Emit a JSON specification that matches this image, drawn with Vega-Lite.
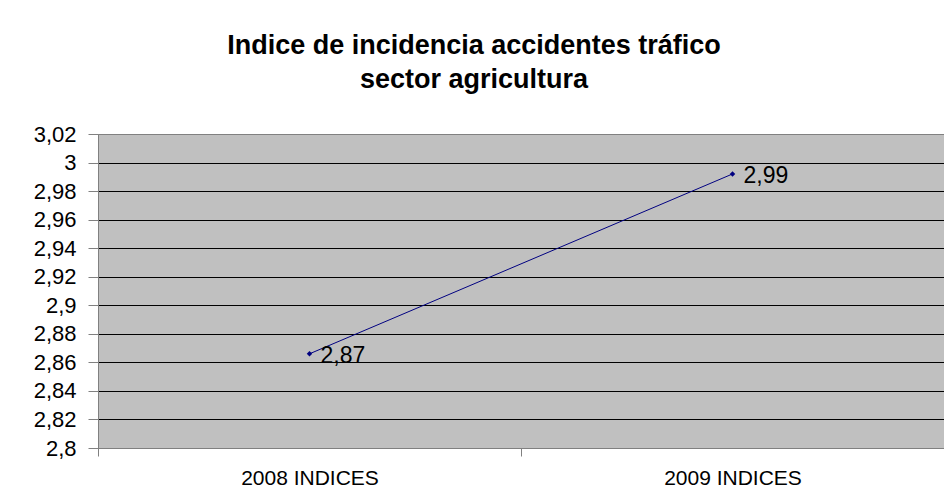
{
  "$schema": "https://vega.github.io/schema/vega-lite/v6.json",
  "width": 846,
  "height": 314,
  "autosize": {"type": "none"},
  "padding": {"left": 98, "top": 134, "right": 0, "bottom": 50},
  "background": "white",
  "title": {
    "text": ["Indice de incidencia accidentes tráfico", "sector agricultura"],
    "font": "Liberation Sans",
    "fontSize": 27,
    "fontWeight": "bold",
    "color": "black",
    "anchor": "middle",
    "frame": "group",
    "dx": -47,
    "offset": 29,
    "lineHeight": 34
  },
  "config": {
    "view": {"fill": "#C0C0C0", "stroke": "#808080", "strokeWidth": 1}
  },
  "data": {
    "values": [
      {"cat": "2008 INDICES", "v": 2.866, "label": "2,87"},
      {"cat": "2009 INDICES", "v": 2.992, "label": "2,99"}
    ]
  },
  "encoding": {
    "x": {
      "field": "cat",
      "type": "nominal",
      "sort": null,
      "scale": {"paddingInner": 0, "paddingOuter": 0},
      "axis": {
        "title": null,
        "labelAngle": 0,
        "labelFont": "Liberation Sans",
        "labelFontSize": 21,
        "labelColor": "black",
        "labelPadding": 11,
        "tickBand": "extent",
        "tickSize": 8,
        "tickColor": "#808080",
        "domainColor": "#808080",
        "grid": false
      }
    },
    "y": {
      "field": "v",
      "type": "quantitative",
      "scale": {"domain": [2.8, 3.02], "nice": false, "zero": false},
      "axis": {
        "title": null,
        "values": [2.8, 2.82, 2.84, 2.86, 2.88, 2.9, 2.92, 2.94, 2.96, 2.98, 3, 3.02],
        "labelExpr": "replace(format(datum.value, '.3~g'), '.', ',')",
        "labelFont": "Liberation Sans",
        "labelFontSize": 22,
        "labelColor": "black",
        "labelPadding": 12,
        "tickSize": 10,
        "tickColor": "#808080",
        "domainColor": "#808080",
        "grid": true,
        "gridColor": {"condition": {"test": "datum.value > 3.01 || datum.value < 2.801", "value": "#808080"}, "value": "black"},
        "gridOpacity": 1,
        "gridWidth": 1
      }
    }
  },
  "layer": [
    {"mark": {"type": "line", "color": "#000080", "strokeWidth": 1}},
    {"mark": {"type": "point", "shape": "diamond", "filled": true, "color": "#000080", "size": 30, "opacity": 1}},
    {
      "mark": {"type": "text", "align": "left", "baseline": "middle", "dx": 11, "dy": 2, "font": "Liberation Sans", "fontSize": 23, "color": "black"},
      "encoding": {"text": {"field": "label"}}
    }
  ]
}
